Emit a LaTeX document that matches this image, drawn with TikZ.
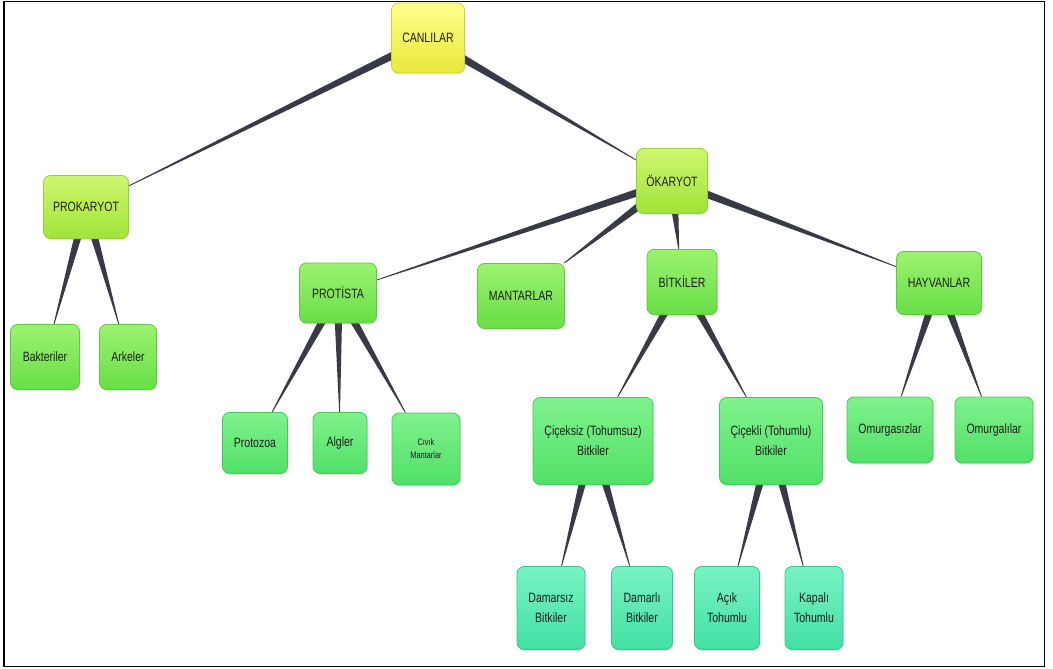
\documentclass[tikz,border=0pt]{standalone}
\usepackage{fontspec}
\setmainfont{Liberation Sans}[FakeStretch=0.78]
\usetikzlibrary{calc,shadows}
\pgfdeclarelayer{bg}
\pgfsetlayers{bg,main}

\definecolor{txt}{HTML}{1E1E1E}
\definecolor{linkcol}{HTML}{3A3A46}
\definecolor{framecol}{HTML}{000000}

\tikzset{
  box/.style={rounded corners=7pt, line width=0.8pt, align=center,
    font=\fontsize{13.5}{20}\selectfont, text=txt, inner sep=0pt,
    drop shadow={opacity=0.18, shadow xshift=1pt, shadow yshift=-1.5pt}},
  yel/.style={box, top color=yellow!45!white, bottom color={rgb,255:red,232;green,232;blue,58}, draw={rgb,255:red,210;green,210;blue,50}},
  lime/.style={box, top color={rgb,255:red,206;green,246;blue,112}, bottom color={rgb,255:red,160;green,228;blue,56}, draw={rgb,255:red,150;green,210;blue,50}},
  grnA/.style={box, top color={rgb,255:red,156;green,242;blue,112}, bottom color={rgb,255:red,104;green,222;blue,70}, draw={rgb,255:red,96;green,200;blue,64}},
  grnB/.style={box, top color={rgb,255:red,128;green,242;blue,140}, bottom color={rgb,255:red,80;green,224;blue,104}, draw={rgb,255:red,70;green,200;blue,92}},
  aqua/.style={box, top color={rgb,255:red,120;green,242;blue,196}, bottom color={rgb,255:red,66;green,224;blue,164}, draw={rgb,255:red,56;green,196;blue,142}},
  link/.style={fill=linkcol},
}

% tapering connector: wide where it leaves the parent, a hairline at the child
\newcommand\taper[2]{%
  \path (#1) -- (#2) coordinate[pos=0] (tpA) coordinate[pos=1] (tpB);
  \coordinate (tpS) at ($(tpA)!-8pt!(tpB)$);
  \begin{pgfonlayer}{bg}
    \fill[link] ($(tpS)!3.8pt!90:(tpB)$) -- ($(tpB)!0.4pt!-90:(tpS)$)
      -- ($(tpB)!0.4pt!90:(tpS)$) -- ($(tpS)!3.8pt!-90:(tpB)$) -- cycle;
  \end{pgfonlayer}}

\begin{document}
\begin{tikzpicture}[x=1pt, y=-1pt]
  \useasboundingbox (0,0) rectangle (1053,669);
  \begin{pgfonlayer}{bg}
    \fill[white] (0,0) rectangle (1053,669);
  \end{pgfonlayer}
  \draw[framecol, line width=1.8pt] (4.3,1.6) rectangle (1044.5,666.5);

  % root and domains
  \node[yel,  minimum width=73pt, minimum height=70pt] (canlilar)  at (428,38)  {CANLILAR};
  \node[lime, minimum width=85pt, minimum height=63pt] (prokaryot) at (86,207)  {PROKARYOT};
  \node[lime, minimum width=71pt, minimum height=65pt] (okaryot)   at (672,181) {ÖKARYOT};

  % kingdoms
  \node[grnA, minimum width=77pt, minimum height=60pt] (protista)  at (338,293) {PROTİSTA};
  \node[grnA, minimum width=87pt, minimum height=65pt] (mantarlar) at (521,296) {MANTARLAR};
  \node[grnA, minimum width=70pt, minimum height=65pt] (bitkiler)  at (682,282) {BİTKİLER};
  \node[grnA, minimum width=85pt, minimum height=63pt] (hayvanlar) at (939,283) {HAYVANLAR};

  \node[grnA, minimum width=69pt, minimum height=65pt] (bakteriler) at (45,357)  {Bakteriler};
  \node[grnA, minimum width=57pt, minimum height=65pt] (arkeler)    at (128,357) {Arkeler};

  % third level
  \node[grnB, minimum width=65pt, minimum height=61pt] (protozoa) at (255,443) {Protozoa};
  \node[grnB, minimum width=54pt, minimum height=61pt] (algler)   at (340,443) {Algler};
  \node[grnB, minimum width=68pt, minimum height=72pt, font=\fontsize{9.5}{13}\selectfont] (civik) at (426,449) {Cıvık\\Mantarlar};
  \node[grnB, minimum width=120pt, minimum height=87pt] (ciceksiz) at (593,441) {Çiçeksiz (Tohumsuz)\\Bitkiler};
  \node[grnB, minimum width=103pt, minimum height=87pt] (cicekli)  at (771,441) {Çiçekli (Tohumlu)\\Bitkiler};
  \node[grnB, minimum width=86pt, minimum height=66pt] (omurgasiz) at (890,430) {Omurgasızlar};
  \node[grnB, minimum width=78pt, minimum height=66pt] (omurgali)  at (994,430) {Omurgalılar};

  % fourth level
  \node[aqua, minimum width=68pt, minimum height=83pt] (damarsiz) at (551,608) {Damarsız\\Bitkiler};
  \node[aqua, minimum width=61pt, minimum height=83pt] (damarli)  at (642,608) {Damarlı\\Bitkiler};
  \node[aqua, minimum width=65pt, minimum height=83pt] (acik)     at (727,608) {Açık\\Tohumlu};
  \node[aqua, minimum width=58pt, minimum height=83pt] (kapali)   at (814,608) {Kapalı\\Tohumlu};

  % connectors
  \taper{canlilar}{prokaryot}
  \taper{canlilar}{okaryot}
  \taper{prokaryot}{bakteriler}
  \taper{prokaryot}{arkeler}
  \taper{okaryot}{protista}
  \taper{okaryot}{mantarlar}
  \taper{okaryot}{bitkiler}
  \taper{okaryot}{hayvanlar}
  \taper{protista}{protozoa}
  \taper{protista}{algler}
  \taper{protista}{civik}
  \taper{bitkiler}{ciceksiz}
  \taper{bitkiler}{cicekli}
  \taper{hayvanlar}{omurgasiz}
  \taper{hayvanlar}{omurgali}
  \taper{ciceksiz}{damarsiz}
  \taper{ciceksiz}{damarli}
  \taper{cicekli}{acik}
  \taper{cicekli}{kapali}
\end{tikzpicture}
\end{document}
